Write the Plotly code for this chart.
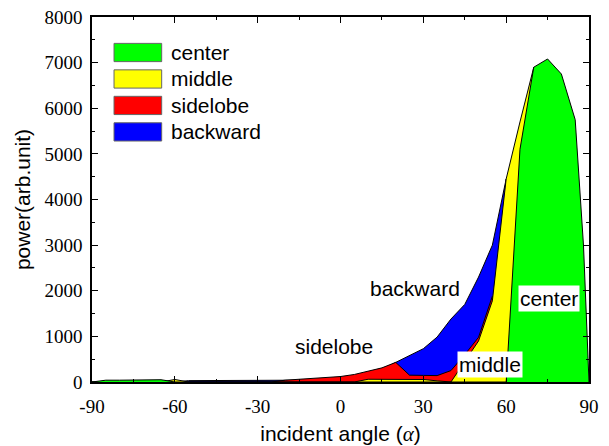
import plotly.graph_objects as go

# Incident angle grid (degrees)
angles = [-90, -85, -80, -75, -70, -65, -60, -55, -50, -45, -40, -35, -30, -25,
          -20, -15, -10, -5, 0, 5, 10, 15, 20, 25, 30, 35, 40, 45, 50, 55,
          60, 65, 70, 75, 80, 85, 88, 90]

# Radiated power per region (arb. unit)
backward = [0, 0, 0, 0, 0, 0, 0, 30, 30, 30, 30, 30, 30, 30,
            25, 40, 55, 70, 90, 130, 190, 280, 430, 570, 730, 985, 1380, 1700, 2300, 3000,
            4450, 0, 0, 0, 0, 0, 0, 0]
sidelobe = [0, 0, 0, 0, 0, 0, 0, 0, 0, 0, 0, 0, 0, 0,
            40, 60, 75, 95, 120, 165, 230, 310, 430, 150, 145, 140, 250, 600, 980, 1880,
            0, 0, 0, 0, 0, 0, 0, 0]
middle = [0, 0, 0, 0, 0, 0, 55, 0, 0, 0, 0, 0, 0, 0,
          0, 0, 0, 0, 0, 0, 60, 60, 60, 60, 55, 25, 0, 450, 900, 1780,
          4450, 5700, 6900, 0, 0, 0, 0, 0]
center = [0, 40, 40, 45, 45, 50, 0, 0, 0, 0, 0, 0, 0, 0,
          0, 0, 0, 0, 0, 0, 0, 0, 0, 0, 0, 0, 0, 0, 0, 0,
          0, 5100, 6900, 7080, 6750, 5750, 3000, 0]

names = ["center", "middle", "sidelobe", "backward"]
colors = {"center": "#00ff00", "middle": "#ffff00",
          "sidelobe": "#ff0000", "backward": "#0000ff"}
series = {"center": center, "middle": middle,
          "sidelobe": sidelobe, "backward": backward}

x_ticks = [-90, -60, -30, 0, 30, 60, 90]
y_ticks = [0, 1000, 2000, 3000, 4000, 5000, 6000, 7000, 8000]

SANS = "Liberation Sans, Arial, sans-serif"
SERIF = "Liberation Serif, Times New Roman, serif"

fig = go.Figure()

# later traces are painted over earlier ones
for name in ["backward", "sidelobe", "middle", "center"]:
    fig.add_trace(go.Scatter(
        x=angles, y=series[name], name=name, mode="lines",
        fill="tozeroy", fillcolor=colors[name],
        line=dict(color="black", width=1), showlegend=False,
        hoverinfo="skip",
    ))

# in-plot region labels
labels = [
    dict(text="backward", x=26.9, y=2040, bg=None),
    dict(text="sidelobe", x=-2.4, y=770, bg=None),
    dict(text="center", x=75.5, y=1820, bg="white"),
    dict(text="middle", x=54.2, y=375, bg="white"),
]
for lb in labels:
    fig.add_annotation(
        x=lb["x"], y=lb["y"], xref="x", yref="y", text=lb["text"],
        showarrow=False, xanchor="center", yanchor="middle",
        font=dict(family=SANS, size=21, color="black"),
        bgcolor=lb["bg"] if lb["bg"] else "rgba(0,0,0,0)", borderpad=1,
    )

# legend block drawn with swatches
row0, step, half = 0.9027, 0.0725, 0.025
for i, name in enumerate(names):
    yc = row0 - i * step
    fig.add_shape(type="rect", xref="paper", yref="paper",
                  x0=0.0443, x1=0.1402, y0=yc - half, y1=yc + half,
                  fillcolor=colors[name], line=dict(color="#666666", width=1))
    fig.add_annotation(x=0.155, y=yc, xref="paper", yref="paper",
                       text=name, showarrow=False,
                       xanchor="left", yanchor="middle",
                       font=dict(family=SANS, size=21, color="black"))

axis_common = dict(
    showline=True, linecolor="black", linewidth=1.5, mirror="allticks",
    ticks="inside", ticklen=6, tickwidth=1, tickcolor="black",
    showgrid=False, zeroline=False, automargin=False,
    tickfont=dict(family=SERIF, size=19, color="black"),
)

fig.update_xaxes(
    range=[-90, 90], tickvals=x_ticks,
    ticktext=[str(v) for v in x_ticks],
    ticklabelstandoff=6,
    minor=dict(dtick=15, ticks="inside", ticklen=3.5, tickcolor="black", showgrid=False),
    title=dict(text="incident angle (<i><span style='font-family:Liberation Serif'>α</span></i>)",
               font=dict(family=SANS, size=21, color="black"), standoff=14),
    **axis_common,
)
fig.update_yaxes(
    range=[0, 8000], tickvals=y_ticks,
    ticktext=[str(v) for v in y_ticks],
    ticklabelstandoff=4,
    minor=dict(dtick=500, ticks="inside", ticklen=3.5, tickcolor="black", showgrid=False),
    title=dict(text="power(arb.unit)",
               font=dict(family=SANS, size=21, color="black"), standoff=8),
    **axis_common,
)

fig.update_layout(
    width=609, height=446,
    margin=dict(l=92, r=20, t=17, b=64),
    paper_bgcolor="white", plot_bgcolor="white",
    showlegend=False,
)

fig.write_html("out.html")
